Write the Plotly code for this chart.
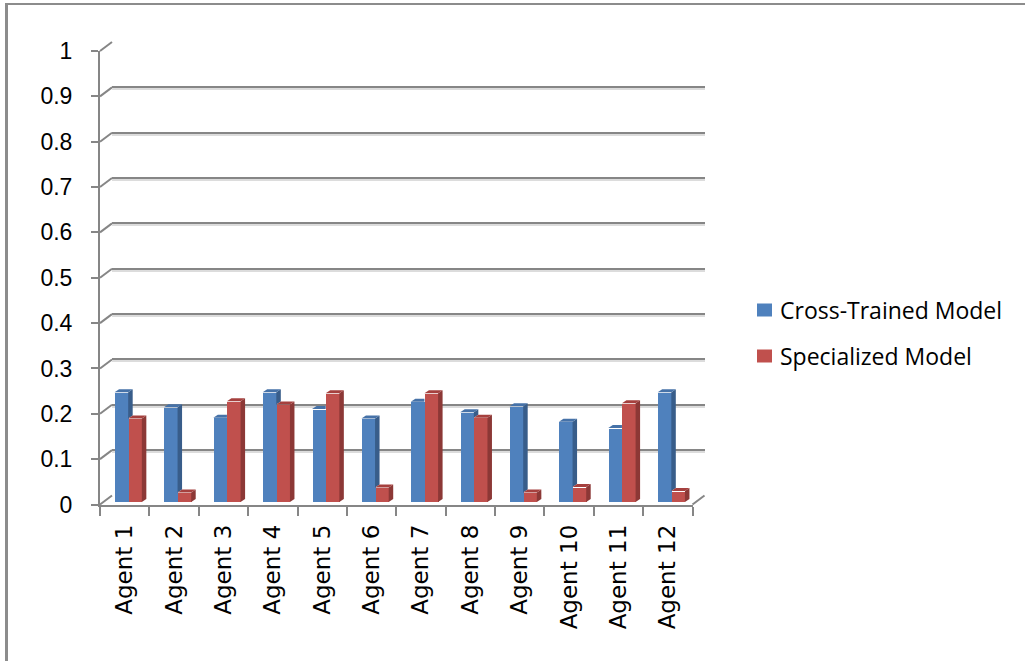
import plotly.graph_objects as go

# ---- data ----
agents = ["Agent 1", "Agent 2", "Agent 3", "Agent 4", "Agent 5", "Agent 6",
          "Agent 7", "Agent 8", "Agent 9", "Agent 10", "Agent 11", "Agent 12"]
cross_trained = [0.242, 0.209, 0.186, 0.242, 0.205, 0.184,
                 0.221, 0.198, 0.211, 0.177, 0.163, 0.242]
specialized = [0.184, 0.021, 0.222, 0.215, 0.240, 0.032,
               0.240, 0.186, 0.021, 0.033, 0.218, 0.024]
series_names = ["Cross-Trained Model", "Specialized Model"]
y_ticks = [0, 0.1, 0.2, 0.3, 0.4, 0.5, 0.6, 0.7, 0.8, 0.9, 1]
y_tick_text = ["0", "0.1", "0.2", "0.3", "0.4", "0.5", "0.6", "0.7", "0.8", "0.9", "1"]

# ---- page geometry (pixels) ----
W, H = 1025, 661
FX0, FX1 = 100, 692.5          # front plane, x extent
FY0, FY1 = 504.5, 51           # front plane, pixel y of value 0 and 1
DEPTH_X, DEPTH_Y = 12, 9       # offset of the back wall
BAR_DX, BAR_DY = 3.5, 2.5      # columns stand a little behind the front plane
FACE_DX, FACE_DY = 4.5, 3.0    # extrusion of each column
LEGEND_X = 757                 # left edge of the legend swatches
LEGEND_Y = [310, 356]          # centre line of each legend row
SWATCH_W, SWATCH_H = 15, 13

AXIS_GRAY = "#868686"
FRONT = ["#4F81BD", "#C0504D"]
SIDE = ["#385D8A", "#8C3836"]
TOP = ["#4672A8", "#A5403E"]


def px(x):
    return x / W


def py(y):
    return (H - y) / H


n = len(agents)
xr = [-0.5, n - 0.5]
ux = (FX1 - FX0) / n          # pixels per category unit
uy = FY0 - FY1                # pixels per value unit
bw = 0.2765                   # width of one column (category units)

fig = go.Figure()

# gridline shadow (x/y), back wall gridlines (x2/y2), front axes (x3/y3)
for ax in ["", "2", "3"]:
    fig.add_trace(go.Scatter(x=[], y=[], xaxis="x" + ax, yaxis="y" + ax,
                             showlegend=False, hoverinfo="skip"))

# columns (x4/y4)
xs = list(range(n))
for k, (name, vals) in enumerate(zip(series_names, [cross_trained, specialized])):
    off = -bw / 2 if k == 0 else bw / 2
    fig.add_trace(go.Bar(
        x=[i + off for i in xs], y=vals, width=bw, name=name,
        marker=dict(color=FRONT[k], line=dict(width=0)),
        xaxis="x4", yaxis="y4", showlegend=False,
    ))

# extruded faces of each column, derived from the same values
fdx = FACE_DX / ux
fdy = FACE_DY / uy
shapes = []


def poly(pts, color, xref="x4", yref="y4"):
    path = "M " + " L ".join(f"{a},{b}" for a, b in pts) + " Z"
    return dict(type="path", path=path, xref=xref, yref=yref,
                fillcolor=color, line=dict(width=0), layer="above")


for i in xs:
    vb, vr = cross_trained[i], specialized[i]
    # blue column: left of the red one, partly hidden by it
    xl, xrr = i - bw, i
    lo = max(0.0, vr)
    if vb > lo:
        shapes.append(poly([(xrr, lo), (xrr, vb), (xrr + fdx, vb + fdy), (xrr + fdx, lo + fdy)], SIDE[0]))
    if vr <= vb:
        shapes.append(poly([(xl, vb), (xrr, vb), (xrr + fdx, vb + fdy), (xl + fdx, vb + fdy)], TOP[0]))
    else:
        shapes.append(poly([(xl, vb), (xrr, vb), (xrr, vb + fdy), (xl + fdx, vb + fdy)], TOP[0]))
    # red column
    xl, xrr = i, i + bw
    shapes.append(poly([(xrr, 0), (xrr, vr), (xrr + fdx, vr + fdy), (xrr + fdx, fdy)], SIDE[1]))
    shapes.append(poly([(xl, vr), (xrr, vr), (xrr + fdx, vr + fdy), (xl + fdx, vr + fdy)], TOP[1]))

# diagonals joining the front value ticks to the back wall
for v in y_ticks:
    yf = FY0 - v * uy
    shapes.append(dict(type="line", xref="paper", yref="paper",
                       x0=px(FX0), y0=py(yf), x1=px(FX0 + DEPTH_X), y1=py(yf - DEPTH_Y),
                       line=dict(color=AXIS_GRAY, width=2), layer="below"))
# right edge of the floor
shapes.append(dict(type="line", xref="paper", yref="paper",
                   x0=px(FX1), y0=py(FY0), x1=px(FX1 + DEPTH_X), y1=py(FY0 - DEPTH_Y),
                   line=dict(color=AXIS_GRAY, width=2), layer="below"))
# outer chart border
shapes.append(dict(type="line", xref="paper", yref="paper",
                   x0=px(6.5), y0=py(4), x1=px(6.5), y1=py(H + 5),
                   line=dict(color="#8C8C8C", width=3), layer="above"))
shapes.append(dict(type="line", xref="paper", yref="paper",
                   x0=px(5), y0=py(4), x1=px(W + 5), y1=py(4),
                   line=dict(color="#8C8C8C", width=2), layer="above"))

# legend: swatch + label per series
annotations = []
for k, name in enumerate(series_names):
    yc = LEGEND_Y[k]
    shapes.append(dict(type="rect", xref="paper", yref="paper",
                       x0=px(LEGEND_X), x1=px(LEGEND_X + SWATCH_W),
                       y0=py(yc + SWATCH_H / 2), y1=py(yc - SWATCH_H / 2),
                       fillcolor=FRONT[k], line=dict(width=0), layer="above"))
    annotations.append(dict(text=name, xref="paper", yref="paper",
                            x=px(LEGEND_X + SWATCH_W + 6), y=py(yc),
                            xanchor="left", yanchor="middle", showarrow=False,
                            font=dict(family="Open Sans", size=23, color="black")))

hidden = dict(showticklabels=False, ticks="", showline=False, zeroline=False,
              fixedrange=True, automargin=False)

fig.update_layout(
    template="none",
    width=W, height=H, autosize=False,
    margin=dict(l=0, r=0, t=0, b=0, pad=0),
    paper_bgcolor="white", plot_bgcolor="rgba(0,0,0,0)",
    barmode="overlay", bargap=0,
    shapes=shapes, annotations=annotations,
    showlegend=False,
    # gridline shadow
    xaxis=dict(domain=[px(FX0 + DEPTH_X), px(FX1 + DEPTH_X)], range=xr, anchor="y", showgrid=False, **hidden),
    yaxis=dict(domain=[py(FY0 - DEPTH_Y + 2), py(FY1 - DEPTH_Y + 2)], range=[0, 1], anchor="x",
               tickmode="array", tickvals=y_ticks, showgrid=True, gridcolor="#DCDCDC", gridwidth=2, **hidden),
    # back wall gridlines
    xaxis2=dict(domain=[px(FX0 + DEPTH_X), px(FX1 + DEPTH_X)], range=xr, anchor="y2", showgrid=False, **hidden),
    yaxis2=dict(domain=[py(FY0 - DEPTH_Y), py(FY1 - DEPTH_Y)], range=[0, 1], anchor="x2",
                tickmode="array", tickvals=y_ticks, showgrid=True, gridcolor=AXIS_GRAY, gridwidth=2, **hidden),
    # front axes
    xaxis3=dict(domain=[px(FX0), px(FX1)], range=xr, anchor="y3",
                tickmode="array", tickvals=xs, ticktext=agents, ticks="",
                tickangle=-90, ticklabelstandoff=9,
                tickfont=dict(family="DejaVu Sans", size=23, color="black"),
                showline=True, linecolor=AXIS_GRAY, linewidth=2,
                showgrid=False, zeroline=False, fixedrange=True, automargin=False,
                minor=dict(tick0=-0.5, dtick=1, ticks="outside", ticklen=9,
                           tickwidth=2, tickcolor=AXIS_GRAY, showgrid=False)),
    yaxis3=dict(domain=[py(FY0), py(FY1)], range=[0, 1], anchor="x3",
                tickmode="array", tickvals=y_ticks, ticktext=y_tick_text,
                ticks="outside", ticklen=7, tickwidth=2, tickcolor=AXIS_GRAY,
                ticklabelstandoff=14,
                tickfont=dict(family="Liberation Sans", size=23, color="black"),
                showline=True, linecolor=AXIS_GRAY, linewidth=2,
                showgrid=False, zeroline=False, fixedrange=True, automargin=False),
    # columns
    xaxis4=dict(domain=[px(FX0 + BAR_DX), px(FX1 + BAR_DX)], range=xr, anchor="y4", showgrid=False, **hidden),
    yaxis4=dict(domain=[py(FY0 - BAR_DY), py(FY1 - BAR_DY)], range=[0, 1], anchor="x4", showgrid=False, **hidden),
)

fig.write_html("out.html")
